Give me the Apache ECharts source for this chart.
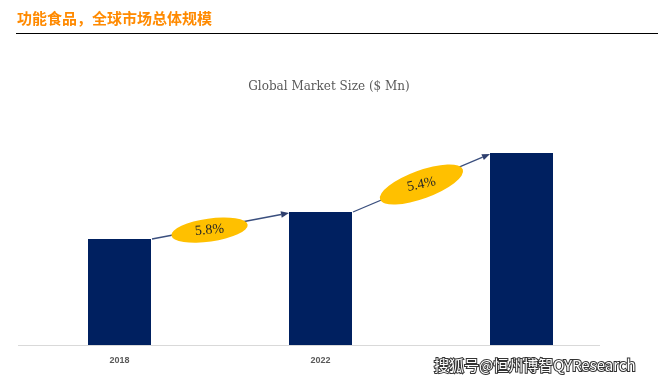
<!DOCTYPE html>
<html>
<head>
<meta charset="utf-8">
<script src="https://cdn.jsdelivr.net/npm/echarts@6/dist/echarts.min.js"></script>
<style>
html,body{margin:0;padding:0;background:#fff;}
#chart{width:658px;height:383px;}
</style>
</head>
<body>
<div id="chart"></div>
<script>
// ---- data ----
var years = ['2018', '2022', '2028'];
var marketSize = [106, 133, 192];          // relative size
var growthFrom = [0, 1];                   // index of start year for each CAGR arrow
var growthTo = [1, 2];                     // index of end year
var growthLabels = ['5.8%', '5.4%'];       // CAGR labels

// ---- styles (not data) ----
var ellipseStyle = [
  { t: 0.42, dy: 2, rx: 38.5, ry: 11.5, rot: 8, textRot: 5 },
  { t: 0.5, dy: 1.5, rx: 44, ry: 14, rot: 20, textRot: 12 }
];
var barWidthPx = 63;

var chart = echarts.init(document.getElementById('chart'));

var arrowData = growthFrom.map(function (f, i) {
  return [f, marketSize[f], growthTo[i], marketSize[growthTo[i]]];
});

var option = {
  animation: false,
  backgroundColor: '#fff',
  title: [{
    text: '功能食品，全球市场总体规模',
    left: 12, top: 6,
    textStyle: { color: '#FF8A00', fontSize: 15, fontWeight: 'bold', fontFamily: 'Noto Sans CJK SC' }
  }, {
    text: 'Global Market Size ($ Mn)',
    left: 'center', top: 76,
    textStyle: { color: '#595959', fontSize: 12, fontWeight: 'normal', fontFamily: 'DejaVu Serif' }
  }],
  grid: { left: 19, right: 36, top: 100, bottom: 38 },
  xAxis: {
    type: 'category',
    data: years,
    axisLine: { show: false },
    axisTick: { show: false },
    axisLabel: { color: '#595959', fontSize: 9, fontWeight: 'bold', margin: 11, fontFamily: 'Liberation Sans' }
  },
  yAxis: {
    type: 'value', min: 0, max: 245, show: false
  },
  series: [{
    type: 'bar',
    data: marketSize,
    barWidth: barWidthPx,
    itemStyle: { color: '#002060' },
    z: 2
  }, {
    type: 'custom',
    data: arrowData,
    encode: { x: [0, 2], y: [1, 3] },
    z: 3,
    renderItem: function (params, api) {
      var i = params.dataIndex;
      var p0 = api.coord([api.value(0), api.value(1)]);
      var p1 = api.coord([api.value(2), api.value(3)]);
      var hw = barWidthPx / 2;
      var x0 = p0[0] + hw + 1, y0 = p0[1];
      var x1 = p1[0] - hw, y1 = p1[1] + 1;
      var ang = Math.atan2(y1 - y0, x1 - x0);
      var ah = 8, aw = 3.2;
      var bx = x1 - ah * Math.cos(ang), by = y1 - ah * Math.sin(ang);
      var nx = -Math.sin(ang), ny = Math.cos(ang);
      var es = ellipseStyle[i];
      var cx = x0 + (x1 - x0) * es.t, cy = y0 + (y1 - y0) * es.t + es.dy;
      return {
        type: 'group',
        children: [{
          type: 'line',
          shape: { x1: x0, y1: y0, x2: bx, y2: by },
          style: { stroke: '#3A4F7E', lineWidth: 1.3 }
        }, {
          type: 'polygon',
          shape: { points: [[x1, y1], [bx + nx * aw, by + ny * aw], [bx - nx * aw, by - ny * aw]] },
          style: { fill: '#2E3F6E' }
        }, {
          type: 'circle',
          x: cx, y: cy,
          scaleX: es.rx / es.ry,
          rotation: es.rot * Math.PI / 180,
          shape: { cx: 0, cy: 0, r: es.ry },
          style: { fill: '#FFC000' }
        }, {
          type: 'text',
          x: cx, y: cy,
          rotation: es.textRot * Math.PI / 180,
          style: {
            text: growthLabels[i],
            fill: '#262626',
            font: '14px "Liberation Serif"',
            align: 'center',
            verticalAlign: 'middle'
          }
        }]
      };
    }
  }],
  graphic: [{
    type: 'line',
    shape: { x1: 16, y1: 33.5, x2: 658, y2: 33.5 },
    style: { stroke: '#000', lineWidth: 1 }
  }, {
    type: 'line',
    shape: { x1: 18, y1: 345.5, x2: 600, y2: 345.5 },
    style: { stroke: '#D9D9D9', lineWidth: 1 },
    z: 1
  }, {
    type: 'text',
    left: 433, top: 357,
    z: 10,
    style: {
      text: '搜狐号@恒州博智QYResearch',
      fill: '#fff',
      stroke: '#333',
      lineWidth: 2,
      font: '15px "Noto Sans CJK SC"'
    }
  }]
};
chart.setOption(option);
</script>
</body>
</html>
